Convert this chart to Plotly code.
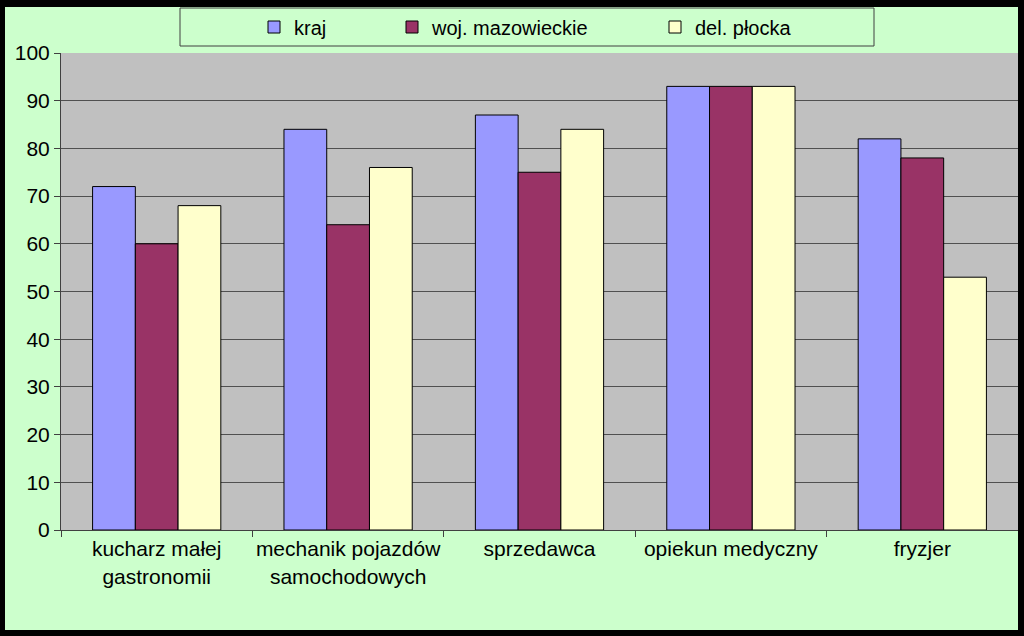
import plotly.graph_objects as go

categories = ["kucharz małej<br>gastronomii", "mechanik pojazdów<br>samochodowych",
              "sprzedawca", "opiekun medyczny", "fryzjer"]
kraj = [72, 84, 87, 93, 82]
woj_mazowieckie = [60, 64, 75, 93, 78]
del_plocka = [68, 76, 84, 93, 53]

W, H = 1024, 636
L, R, T, B = 61, 6, 53, 106
pw, ph = W - L - R, H - T - B

font = "Liberation Sans, Arial, sans-serif"

fig = go.Figure()
fig.add_trace(go.Bar(x=categories, y=kraj, name="kraj", legend="legend", showlegend=True,
                     marker=dict(color="#9999FF", line=dict(color="black", width=1))))
fig.add_trace(go.Bar(x=categories, y=woj_mazowieckie, name="woj. mazowieckie", legend="legend2",
                     showlegend=True,
                     marker=dict(color="#993366", line=dict(color="black", width=1))))
fig.add_trace(go.Bar(x=categories, y=del_plocka, name="del. płocka", legend="legend3",
                     showlegend=True,
                     marker=dict(color="#FFFFCC", line=dict(color="black", width=1))))

def px2x(px):
    return (px - L) / pw

def px2y(py):
    return (H - B - py) / ph

def band(x0, y0, x1, y1):
    # solid black strip of the outer frame, given in page pixels
    return dict(type="rect", xref="paper", yref="paper",
                x0=px2x(x0), x1=px2x(x1), y0=px2y(y1), y1=px2y(y0),
                line=dict(width=0), fillcolor="black", layer="above")

leg = dict(orientation="h", xref="container", yref="container", yanchor="middle",
           y=1 - 27 / H, bgcolor="rgba(0,0,0,0)", borderwidth=0,
           font=dict(family=font, size=20, color="black"), itemwidth=30)

fig.update_layout(
    width=W, height=H,
    margin=dict(l=L, r=R, t=T, b=B, autoexpand=False),
    showlegend=True,
    paper_bgcolor="#CCFFCC",
    plot_bgcolor="#C0C0C0",
    barmode="group",
    bargap=0.33,
    bargroupgap=0,
    font=dict(family=font, size=21, color="black"),
    legend=dict(leg, x=254 / W),
    legend2=dict(leg, x=392 / W),
    legend3=dict(leg, x=655 / W),
    xaxis=dict(showline=True, linecolor="#404040", linewidth=1, ticks="outside",
               tickson="boundaries", ticklen=6, tickcolor="#404040", tickangle=0,
               tickfont=dict(family=font, size=21, color="black"), showgrid=False),
    yaxis=dict(range=[0, 100], dtick=10, showline=True, linecolor="#404040", linewidth=1,
               ticks="outside", ticklen=6, tickcolor="#404040",
               tickfont=dict(family=font, size=21, color="black"),
               gridcolor="#505050", gridwidth=1, zeroline=False),
    shapes=[
        # legend box
        dict(type="rect", xref="paper", yref="paper",
             x0=px2x(180), x1=px2x(874), y0=px2y(46), y1=px2y(8),
             line=dict(color="#404040", width=1), fillcolor="rgba(0,0,0,0)", layer="above"),
        # outer black frame
        band(0, 0, W, 7),
        band(0, 630, W, H),
        band(0, 0, 5, H),
        band(1018, 0, W, H),
    ],
)

fig.write_html("out.html", config={"displayModeBar": False},
               post_script="document.body.style.margin='0';")
